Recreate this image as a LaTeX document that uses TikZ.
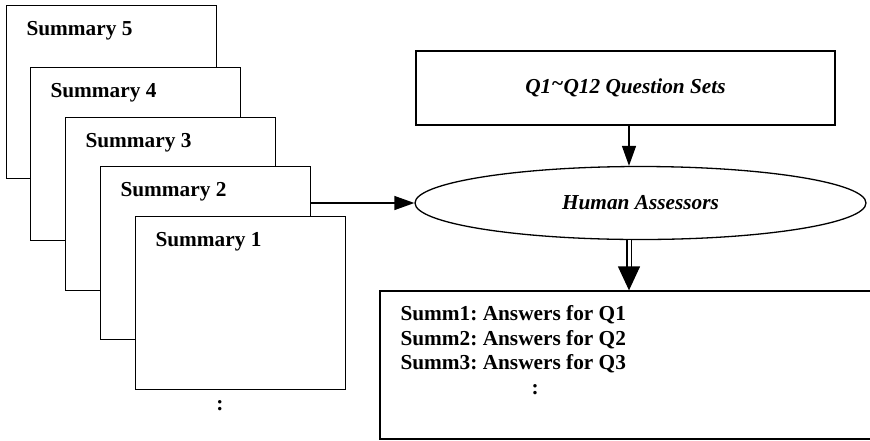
\documentclass[tikz,border=0pt]{standalone}
\usepackage{fontspec}
\setmainfont{Liberation Serif}
\usetikzlibrary{arrows.meta, shapes.geometric}
\frenchspacing

\begin{document}
\begin{tikzpicture}[
    x=1pt, y=-1pt,
    font=\fontsize{21.3}{24.5}\selectfont\bfseries,
    sumbox/.style={draw, rectangle, fill=white, line width=1.3pt, inner sep=0pt, minimum width=210pt, minimum height=173pt},
    qbox/.style={draw, rectangle, line width=1.3pt, inner sep=0pt, minimum width=419pt, minimum height=74pt, font=\fontsize{21.3}{24.5}\selectfont\bfseries\itshape},
    assess/.style={draw, ellipse, line width=1.3pt, inner sep=0pt, minimum width=451pt, minimum height=73pt, font=\fontsize{21.3}{24.5}\selectfont\bfseries\itshape},
    ansbox/.style={draw, rectangle, line width=1.3pt, inner sep=0pt, minimum width=495pt, minimum height=148pt},
    arr/.style={-{Triangle[length=20pt, width=14pt]}, line width=1.3pt},
    dbl/.style={-{Triangle[length=24pt, width=22pt]}, double, double distance=3pt, line width=1.3pt}
]
\useasboundingbox (0,0) rectangle (870,440);

% stacked summaries
\foreach \i/\x/\y in {5/6/5, 4/30/67, 3/65/117, 2/100/166, 1/135/216}
    \node[sumbox, anchor=north west,
          label={[anchor=west, xshift=17pt, yshift=-26pt]north west:Summary \i}] (s\i) at (\x,\y) {};
\node (dots) at (220,406) {:};

% questions and assessors
\node[qbox] (qs) at (625.5,88) {Q1\raisebox{0.3ex}{\char`\~}Q12 Question Sets};
\node[assess] (hum) at (640.5,203) {Human Assessors};

% answers
\node[ansbox] (ans) at (627.5,365) {};
\node[anchor=north west, align=left] (anstext) at (397,302)
    {Summ1: Answers for Q1\\Summ2: Answers for Q2\\Summ3: Answers for Q3\\\hspace*{131pt}:};

\draw[arr] (s2.east |- hum.west) -- (hum.west);
\draw[arr] (qs.south -| 629,0) -- (629,0 |- hum.north);
\draw[dbl] (629,0 |- hum.south) -- (629,0 |- ans.north);

\end{tikzpicture}
\end{document}
